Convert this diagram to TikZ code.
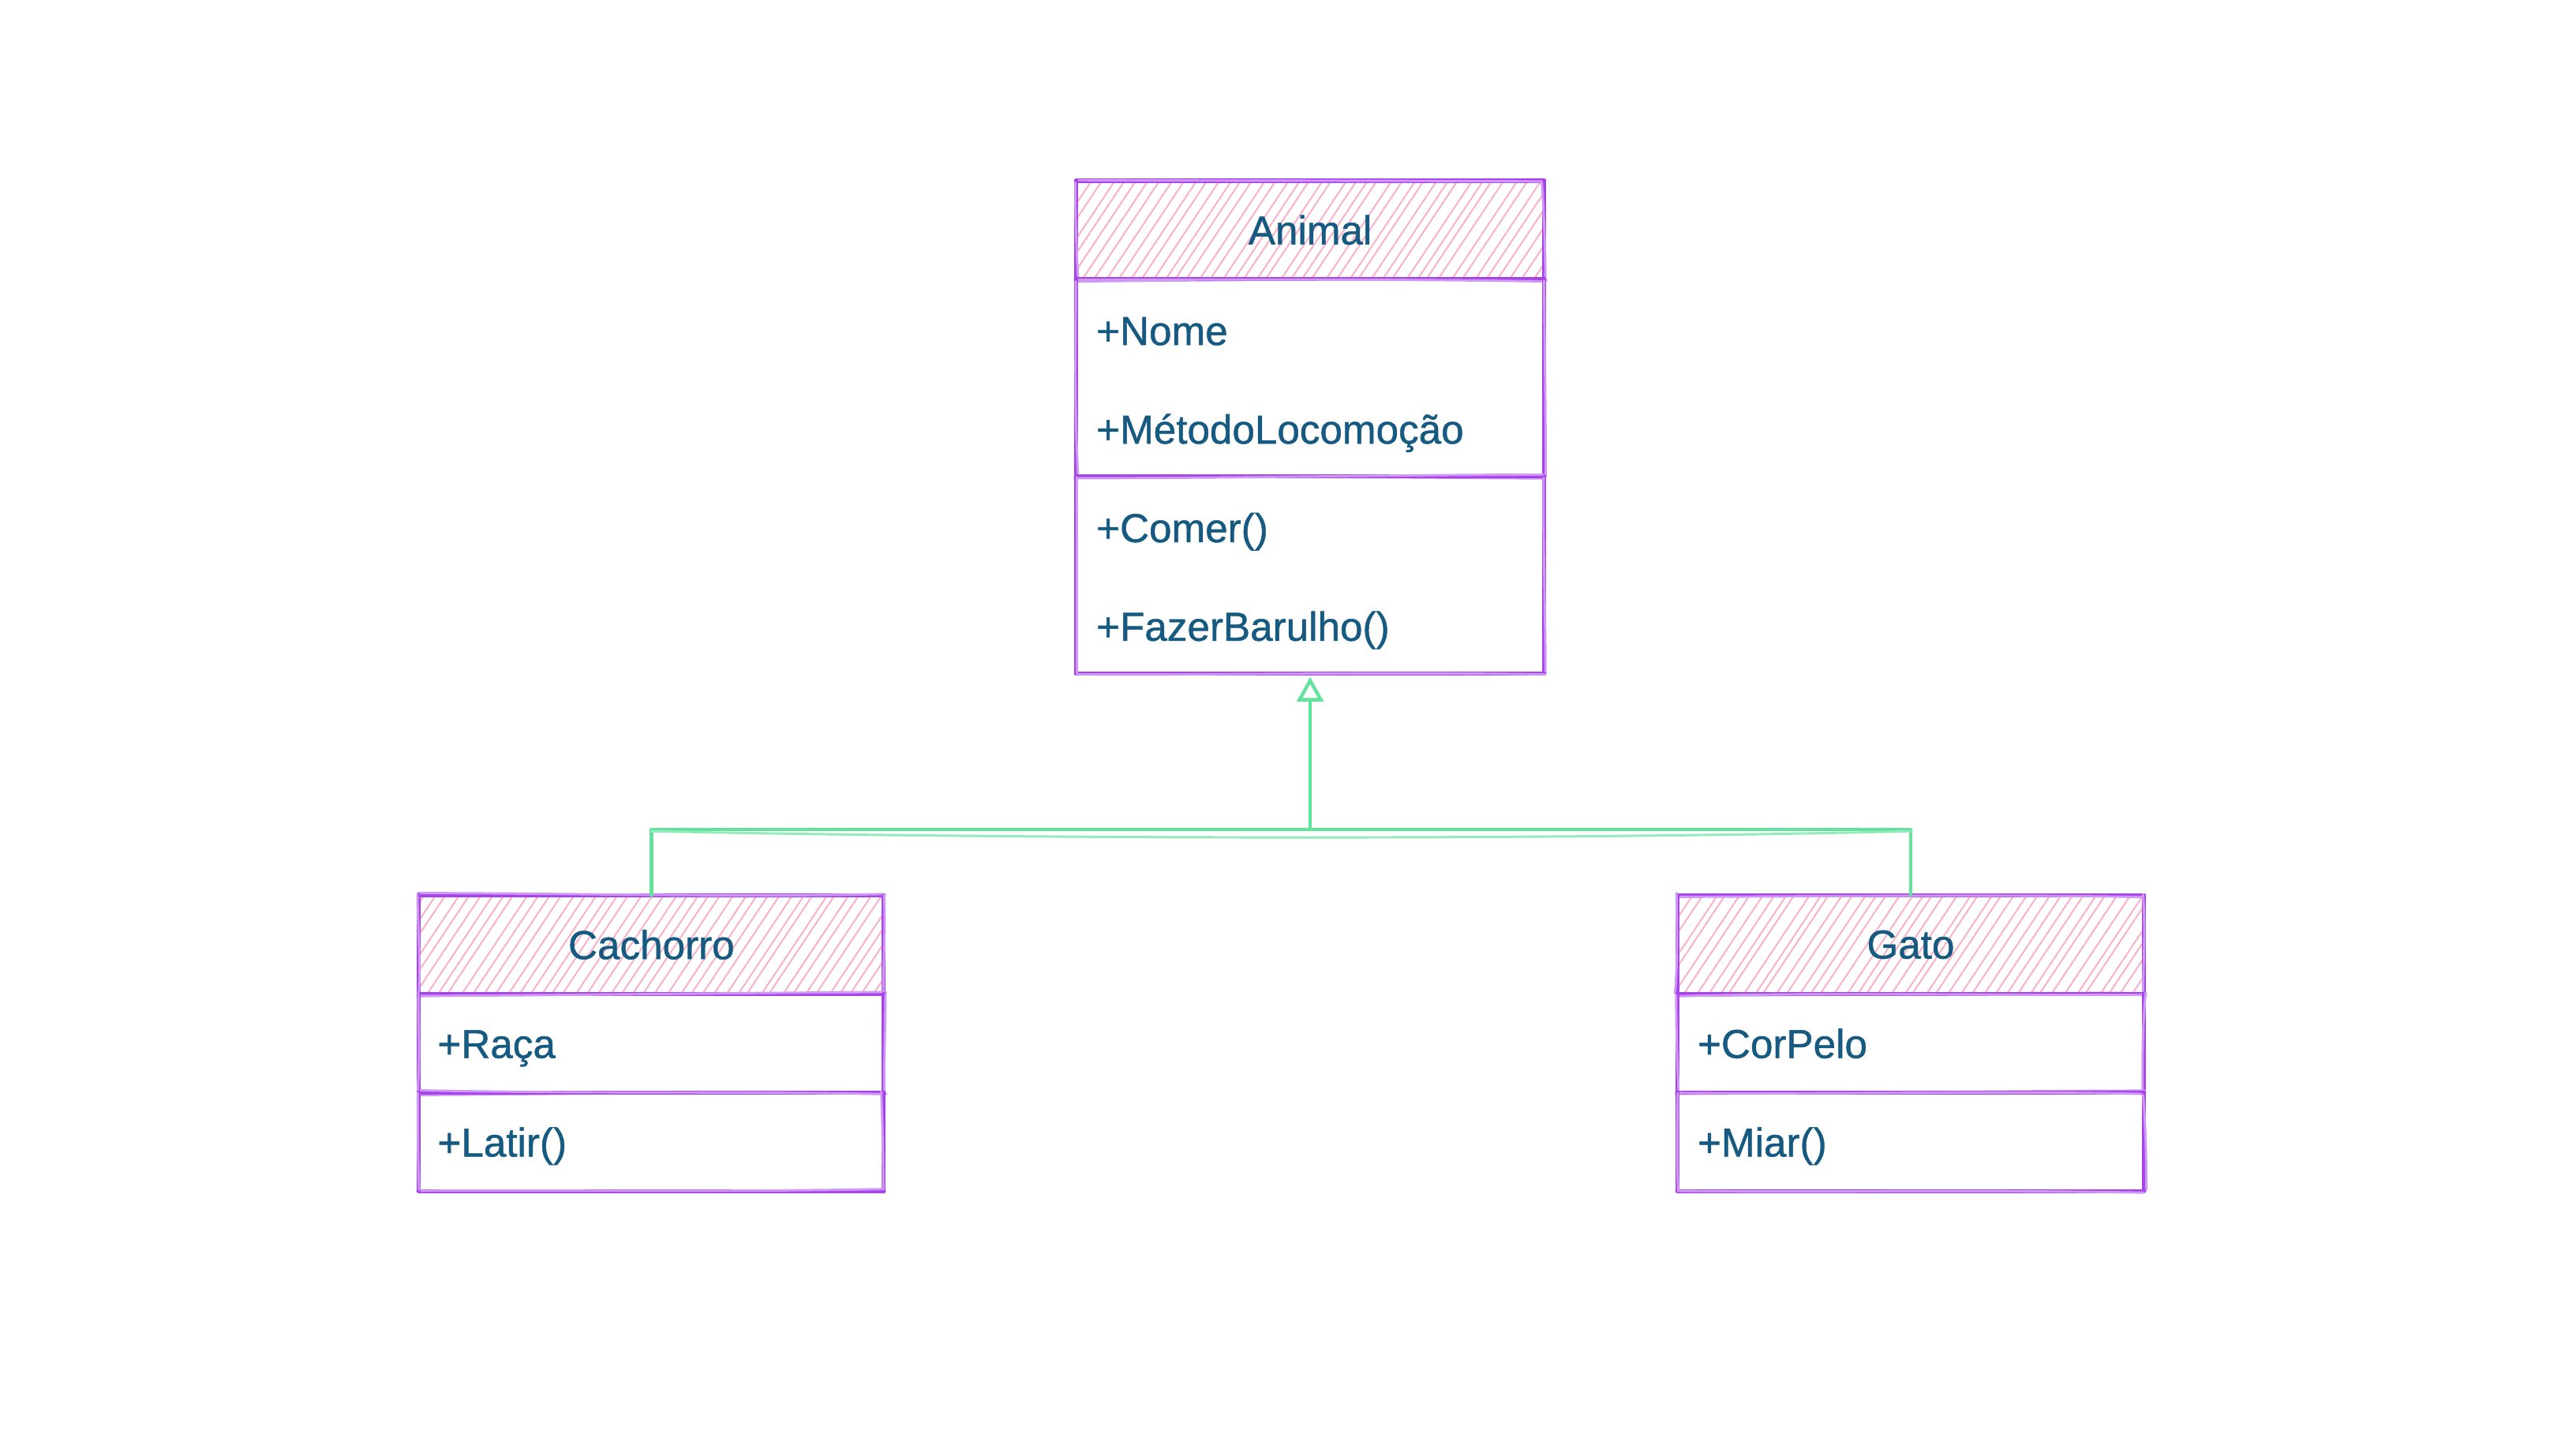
\documentclass[tikz,border=0pt]{standalone}
\usepackage{fontspec}
\setmainfont{Liberation Sans}
\newfontfamily\umlfont{Liberation Sans}[BoldFont=Liberation Sans, BoldFeatures={FakeBold=0.9}]
\usetikzlibrary{calc,fit,arrows.meta}

\definecolor{umlpurple}{HTML}{A843EC}
\definecolor{umlpink}{HTML}{F8B2CA}
\definecolor{umltext}{HTML}{165A82}
\definecolor{umlgreen}{HTML}{62E39C}

\tikzset{
  part/.style={inner sep=0pt, outer sep=0pt},
  labeltext/.style={text=umltext, font=\umlfont\bfseries\fontsize{14}{16}\selectfont, inner sep=0pt},
  member/.style={labeltext, anchor=base west},
  classtitle/.style={labeltext, anchor=center},
  sketchA/.style={draw=umlpurple, line width=1.4pt, line cap=round},
  sketchB/.style={draw=umlpurple!55, line width=0.8pt, line cap=round},
  hatch/.style={draw=umlpink, line width=0.55pt},
  gen/.style={draw=umlgreen, line width=1.2pt, line cap=round, line join=round},
}

% a hand-drawn edge: one firm stroke plus a lighter, slightly wandering one
\newcommand{\roughline}[2]{%
  \draw[sketchA] #1 -- #2;
  \pgfmathsetmacro{\jxa}{rand*1.6}%
  \pgfmathsetmacro{\jxb}{rand*1.6}%
  \pgfmathsetmacro{\jxc}{rand*1.2}%
  \draw[sketchB] ($#1+(\jxa,\jxb)$) .. controls ($#1!0.35!#2+(\jxc,\jxc)$) and ($#1!0.7!#2+(\jxb,-\jxc)$) .. ($#2+(\jxb,\jxa)$);
}
\newcommand{\roughbox}[1]{%
  \roughline{(#1.north west)}{(#1.north east)}%
  \roughline{(#1.north east)}{(#1.south east)}%
  \roughline{(#1.south east)}{(#1.south west)}%
  \roughline{(#1.south west)}{(#1.north west)}%
}
% diagonal pink hatching of a class header
\newcommand{\hatchfill}[1]{%
  \begin{scope}
    \clip (#1.north west) rectangle (#1.south east);
    \foreach \k in {-60,-53,...,300} {
      \pgfmathsetmacro{\hj}{rand*1.4}
      \draw[hatch] ($(#1.south west)+(\k+\hj,2)$) -- ++(44,-66);
    }
  \end{scope}}

\begin{document}
\begin{tikzpicture}[x=0.2mm, y=-0.2mm]
\pgfmathsetseed{11}
\fill[white] (0,0) rectangle (1568,882);
\useasboundingbox (0,0) rectangle (1568,882);

% Animal
\node[part, fit={(655,110) (940,170)}] (animal-head) {};
\node[part, fit={(655,170) (940,290)}] (animal-attr) {};
\node[part, fit={(655,290) (940,410)}] (animal-ops) {};
\node[part, fit=(animal-head)(animal-ops)] (animal) {};

% Cachorro
\node[part, fit={(255,545) (538,605)}] (cachorro-head) {};
\node[part, fit={(255,605) (538,665)}] (cachorro-attr) {};
\node[part, fit={(255,665) (538,725)}] (cachorro-ops) {};
\node[part, fit=(cachorro-head)(cachorro-ops)] (cachorro) {};

% Gato
\node[part, fit={(1021,545) (1305,605)}] (gato-head) {};
\node[part, fit={(1021,605) (1305,665)}] (gato-attr) {};
\node[part, fit={(1021,665) (1305,725)}] (gato-ops) {};
\node[part, fit=(gato-head)(gato-ops)] (gato) {};

\hatchfill{animal-head}
\hatchfill{cachorro-head}
\hatchfill{gato-head}

\roughbox{animal-head}
\roughbox{animal-attr}
\roughbox{animal-ops}
\roughbox{cachorro-head}
\roughbox{cachorro-attr}
\roughbox{cachorro-ops}
\roughbox{gato-head}
\roughbox{gato-attr}
\roughbox{gato-ops}

\node[classtitle] (animal-name) at (animal-head.center) {Animal};
\node[member] (animal-nome) at (667,210) {+Nome};
\node[member] (animal-loco) at (667,270) {+MétodoLocomoção};
\node[member] (animal-comer) at (667,330) {+Comer()};
\node[member] (animal-barulho) at (667,390) {+FazerBarulho()};

\node[classtitle] (cachorro-name) at (cachorro-head.center) {Cachorro};
\node[member] (cachorro-raca) at (266,644) {+Raça};
\node[member] (cachorro-latir) at (266,704) {+Latir()};

\node[classtitle] (gato-name) at (gato-head.center) {Gato};
\node[member] (gato-cor) at (1033,644) {+CorPelo};
\node[member] (gato-miar) at (1033,704) {+Miar()};

% generalisation
\coordinate (bus) at (797.5,505);
\draw[gen] (cachorro.north) -- (cachorro.north |- bus) -- (gato.north |- bus) -- (gato.north);
\draw[gen, draw=umlgreen!70, line width=0.8pt] ($(cachorro.north |- bus)+(0,1)$)
  .. controls ($(bus)+(-150,6)$) and ($(bus)+(150,6)$) .. ($(gato.north |- bus)+(0,1)$);
\draw[gen, -{Triangle[open, length=3mm, width=3.2mm, line width=1.2pt]}] (bus) -- ($(animal.south)+(0,2)$);
\end{tikzpicture}
\end{document}
